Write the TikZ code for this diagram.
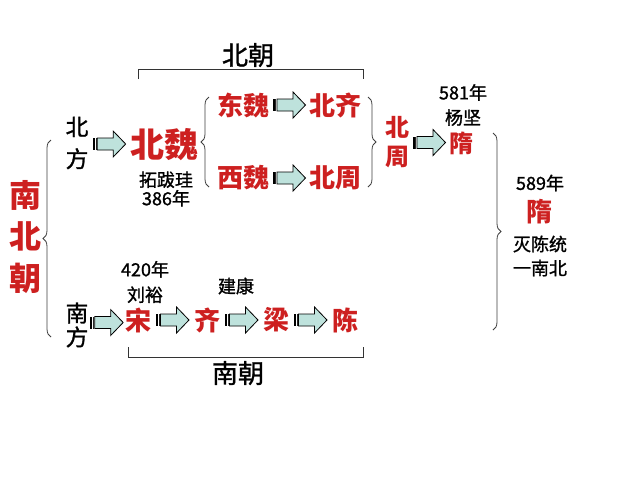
\documentclass[tikz,border=0pt]{standalone}
\usepackage{fontspec}
\setmainfont{Noto Sans CJK SC}
\newfontfamily\blkfont{Noto Sans CJK SC}[FakeBold=1.2]
\usetikzlibrary{calc,decorations.pathreplacing}
\definecolor{hred}{RGB}{205,32,32}
\definecolor{arrfill}{RGB}{190,226,220}
\tikzset{
  base/.style={inner sep=0pt, outer sep=0pt, align=center},
  redbig/.style={base, text=hred, font=\bfseries\fontsize{25}{31}\selectfont},
  redmid/.style={base, text=hred, font=\bfseries\fontsize{19.5}{22}\selectfont},
  redsm/.style={base, text=hred, font=\bfseries\fontsize{18}{22}\selectfont},
  blkmid/.style={base, font=\blkfont\fontsize{19.5}{22}\selectfont},
  blkdir/.style={base, font=\blkfont\fontsize{17}{24}\selectfont},
  blksm/.style={base, font=\blkfont\fontsize{13.5}{14}\selectfont},
  brk/.style={draw=black!80, line width=0.6pt},
  curly/.style={draw=black!75, line width=0.6pt, decorate, decoration={brace, amplitude=6}},
  arrbody/.style={draw=black, line width=0.6pt, fill=arrfill, line join=miter},
}
\newcommand\barrow[2]{%
  \begin{scope}[shift={($(#1.east)!0.5!(#2.west)$)}]
    \fill[black] (-16.5,-6) rectangle (-14.3,6);
    \fill[black!85] (-13.6,-6) rectangle (-12.6,6);
    \draw[arrbody] (-12,-6) -- (4,-6) -- (4,-13) -- (16.5,0) -- (4,13) -- (4,6) -- (-12,6) -- cycle;
  \end{scope}}
\begin{document}
\begin{tikzpicture}[x=0.75pt, y=-0.75pt]
\useasboundingbox[fill=white] (0,0) rectangle (640,480);

% left column
\node[redbig, font=\bfseries\fontsize{24}{31}\selectfont] (nbc) at (25,237) {南\\北\\朝};
\draw[curly] (51,337) -- (51,140);

\node[blkdir] (beifang) at (77,143) {北\\方};
\node[blkdir, font=\blkfont\fontsize{17}{18}\selectfont] (nanfang) at (77,325) {南\\方};

% northern dynasties
\node[redbig, font=\bfseries\fontsize{25.5}{30}\selectfont] (beiwei) at (164,145) {北魏};
\node[blksm] (tuoba) at (166,189) {拓跋珪\\386年};
\barrow{beifang}{beiwei}

\draw[curly] (209,187) -- (209,97);
\node[redmid] (dongwei) at (243,105) {东魏};
\node[redmid] (beiqi) at (335,105) {北齐};
\node[redmid] (xiwei) at (243,178) {西魏};
\node[redmid] (beizhou) at (335,178) {北周};
\barrow{dongwei}{beiqi}
\barrow{xiwei}{beizhou}
\draw[curly] (368,97) -- (368,187);

% 北朝 bracket
\node[blkmid] (beichao) at (248,55) {北朝};
\draw[brk] (138,79) -- (138,69) -- (363,69) -- (363,79);

% Sui
\node[redsm, font=\bfseries\fontsize{18}{21.5}\selectfont] (bz2) at (397,142) {北\\周};
\node[redsm] (sui1) at (461,143) {隋};
\node[blksm, font=\blkfont\fontsize{13.5}{18.75}\selectfont] (yang) at (463,105) {581年\\杨坚};
\barrow{bz2}{sui1}

\draw[curly] (493,133) -- (493,330);
\node[blksm] (y589) at (540,183) {589年};
\node[redmid] (sui2) at (539,212) {隋};
\node[blksm, font=\blkfont\fontsize{13.5}{18}\selectfont] (mie) at (540,256) {灭陈统\\一南北};

% southern dynasties
\node[redmid] (song) at (138,320) {宋};
\node[redmid] (qi) at (207,320) {齐};
\node[redmid] (liang) at (276,320) {梁};
\node[redmid] (chen) at (345,320) {陈};
\node[blksm, font=\blkfont\fontsize{13.5}{19}\selectfont] (liuyu) at (145,282) {420年\\刘裕};
\node[blksm] (jiankang) at (236,286) {建康};
\barrow{nanfang}{song}
\barrow{song}{qi}
\barrow{qi}{liang}
\barrow{liang}{chen}

\draw[brk] (128,347) -- (128,357) -- (363,357) -- (363,347);
\node[blkmid] (nanchao) at (238,373) {南朝};
\end{tikzpicture}
\end{document}
